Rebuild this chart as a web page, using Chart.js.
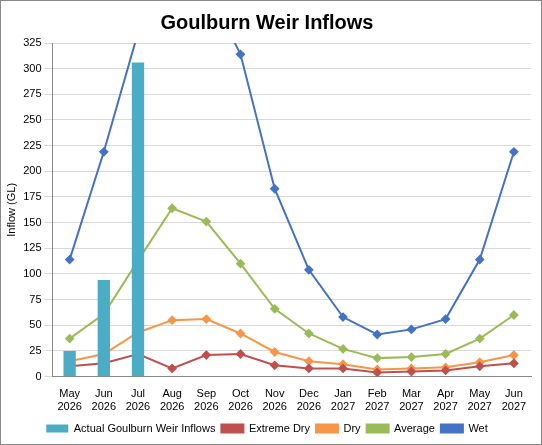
<!DOCTYPE html>
<html>
<head>
<script src="https://cdn.jsdelivr.net/npm/chart.js@4"></script>
<style>
body { margin: 0; background: #fff; }
#wrap { width: 540px; height: 443px; border: 1px solid #888; }
</style>
</head>
<body>
<div id="wrap"><canvas id="c"></canvas></div>
<script>
// Goulburn Weir inflows, GL
const months = [
    ['May', '2026'], ['Jun', '2026'], ['Jul', '2026'], ['Aug', '2026'], ['Sep', '2026'],
    ['Oct', '2026'], ['Nov', '2026'], ['Dec', '2026'], ['Jan', '2027'], ['Feb', '2027'],
    ['Mar', '2027'], ['Apr', '2027'], ['May', '2027'], ['Jun', '2027']
];
const actual = [25, 94, 306, null, null, null, null, null, null, null, null, null, null, null];
const extremeDry = [10, 13, 22, 8, 21, 22, 11, 8, 8, 4, 5, 6, 10, 13];
const dry = [15, 22, 43, 55, 56, 42, 24, 15, 12, 7, 8, 9, 14, 21];
const average = [37, 61, 113, 164, 151, 110, 66, 42, 27, 18, 19, 22, 37, 60];
const wet = [114, 219, 335, 400, 380, 314, 183, 104, 58, 41, 46, 56, 114, 219];

function line(label, data, color) {
    return {
        type: 'line', label: label, data: data,
        borderColor: color, backgroundColor: color, borderWidth: 2,
        pointStyle: 'rectRot', pointRadius: 3.5, tension: 0
    };
}

const ctx = document.getElementById('c').getContext('2d');
new Chart(ctx, {
    data: {
        labels: months,
        datasets: [
            {
                type: 'bar', label: 'Actual Goulburn Weir Inflows', data: actual,
                backgroundColor: '#4BACC6', categoryPercentage: 0.9, barPercentage: 0.4
            },
            line('Extreme Dry', extremeDry, '#C0504D'),
            line('Dry', dry, '#F79646'),
            line('Average', average, '#9BBB59'),
            line('Wet', wet, '#4472C4')
        ]
    },
    options: {
        responsive: true,
        maintainAspectRatio: false,
        animation: false,
        layout: { padding: { left: 2, right: 10, top: 0, bottom: 0 } },
        scales: {
            x: {
                grid: { display: false },
                border: { color: '#888' },
                ticks: { color: '#000', font: { size: 11, family: 'Liberation Sans' }, maxRotation: 0 }
            },
            y: {
                min: 0, max: 325,
                ticks: { stepSize: 25, color: '#000', font: { size: 11, family: 'Liberation Sans' } },
                grid: { color: '#d9d9d9' },
                border: { color: '#888' },
                title: { display: true, text: 'Inflow (GL)', color: '#000', padding: 2, font: { size: 11, family: 'Liberation Sans' } }
            }
        },
        plugins: {
            title: {
                display: true,
                text: 'Goulburn Weir Inflows',
                color: '#000',
                padding: { top: 10, bottom: 8 },
                font: { size: 20, weight: 'bold', family: 'Liberation Sans' }
            },
            legend: {
                position: 'bottom',
                labels: {
                    color: '#000', boxWidth: 22, boxHeight: 8, padding: 6,
                    font: { size: 11, family: 'Liberation Sans' }
                }
            }
        }
    }
});
</script>
</body>
</html>
